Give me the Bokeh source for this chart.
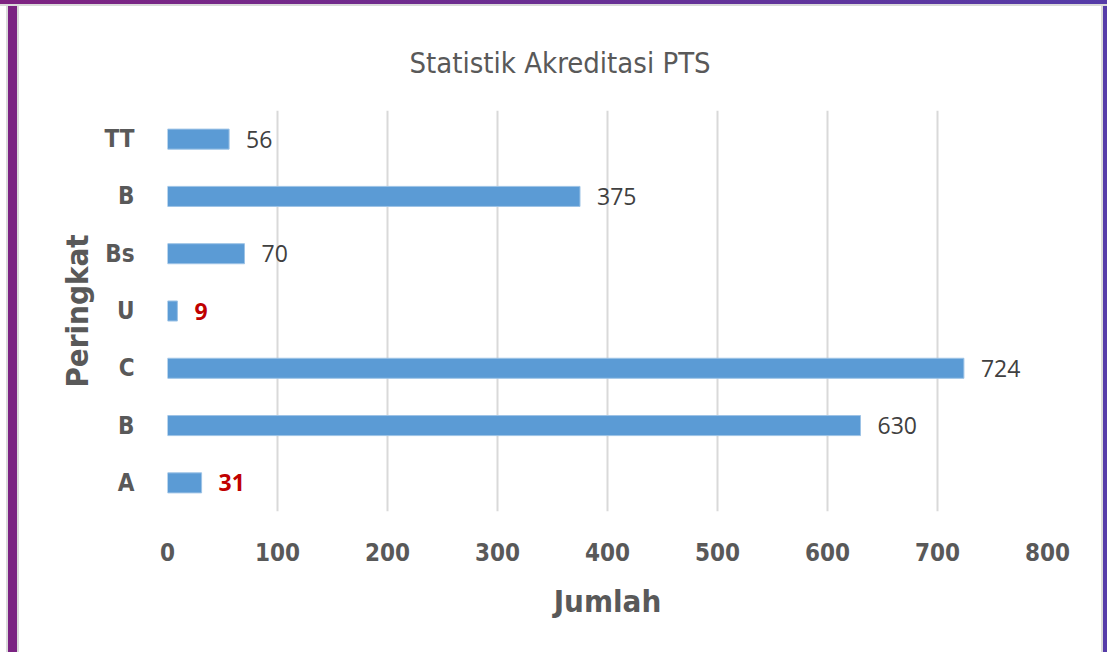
from bokeh.plotting import figure
from bokeh.models import ColumnDataSource, FixedTicker, LabelSet, Div, Range1d
from bokeh.layouts import row, column
from bokeh.core.properties import value
from bokeh.embed import file_html
from bokeh.resources import INLINE

# ---- data ----
categories = ["A", "B", "C", "U", "Bs", "B", "TT"]   # bottom to top
values = [31, 630, 724, 9, 70, 375, 56]
highlight_categories = ["A", "U"]
x_ticks = [0, 100, 200, 300, 400, 500, 600, 700, 800]
title_text = "Statistik Akreditasi PTS"
x_label = "Jumlah"
y_label = "Peringkat"

COND = "'DejaVu Sans Condensed', 'DejaVu Sans', sans-serif"
GRAY = "#595959"

pos = list(range(len(categories)))
label_color = ["#C00000" if c in highlight_categories else "#404040" for c in categories]
label_weight = ["bold" if c in highlight_categories else "normal" for c in categories]
source = ColumnDataSource(dict(y=pos, v=values, txt=[str(v) for v in values],
                               color=label_color, weight=label_weight))

p = figure(frame_width=880, frame_height=401,
           x_range=Range1d(0, 800), y_range=Range1d(-0.5, len(categories) - 0.5),
           output_backend="svg", toolbar_location=None,
           min_border_left=148, min_border_right=54,
           min_border_top=104, min_border_bottom=141,
           background_fill_color="white", border_fill_color="white")
p.outline_line_color = None

p.hbar(y="y", right="v", left=0, height=0.35, source=source,
       fill_color="#5B9BD5", line_color="#9DC3E6", line_width=1)

labels = LabelSet(x="v", y="y", text="txt", source=source, x_offset=17,
                  text_baseline="middle", text_align="left",
                  text_font=value("Open Sans"), text_font_size="23px",
                  text_color="color", text_font_style="weight")
p.add_layout(labels)

# title
p.title.text = title_text
p.title.align = "left"
p.title.offset = 242
p.title.standoff = 62
p.title.text_font = COND
p.title.text_font_size = "29px"
p.title.text_font_style = "normal"
p.title.text_color = GRAY

# x axis
p.xaxis.ticker = FixedTicker(ticks=x_ticks)
p.xaxis.axis_line_color = None
p.xaxis.major_tick_line_color = None
p.xaxis.minor_tick_line_color = None
p.xaxis.major_label_standoff = 25
p.xaxis.major_label_text_font = COND
p.xaxis.major_label_text_font_size = "24px"
p.xaxis.major_label_text_font_style = "bold"
p.xaxis.major_label_text_color = GRAY
p.xaxis.axis_label = x_label
p.xaxis.axis_label_standoff = 19
p.xaxis.axis_label_text_font = COND
p.xaxis.axis_label_text_font_size = "31px"
p.xaxis.axis_label_text_font_style = "bold"
p.xaxis.axis_label_text_color = GRAY

# y axis
p.yaxis.ticker = FixedTicker(ticks=pos)
p.yaxis.major_label_overrides = {i: c for i, c in zip(pos, categories)}
p.yaxis.axis_line_color = None
p.yaxis.major_tick_line_color = None
p.yaxis.minor_tick_line_color = None
p.yaxis.major_label_standoff = 27
p.yaxis.major_label_text_font = COND
p.yaxis.major_label_text_font_size = "24px"
p.yaxis.major_label_text_font_style = "bold"
p.yaxis.major_label_text_color = GRAY
p.yaxis.axis_label = y_label
p.yaxis.axis_label_standoff = 6
p.yaxis.axis_label_text_font = COND
p.yaxis.axis_label_text_font_size = "31px"
p.yaxis.axis_label_text_font_style = "bold"
p.yaxis.axis_label_text_color = GRAY

p.xgrid.grid_line_color = "#D9D9D9"
p.xgrid.grid_line_width = 2
p.ygrid.grid_line_color = None


def strip(w, h, bg):
    return Div(text="", width=w, height=h,
               styles={"background": bg, "margin": "0", "padding": "0"})


H = 646
top = column(strip(1107, 4, "linear-gradient(to right, #7E2381, #6A2F93, #553CA8)"),
             strip(1107, 2, "#DADADA"), spacing=0)
body = row(strip(6, H, "white"), strip(2, H, "#DADADA"), strip(9, H, "#7B2382"),
           strip(2, H, "#DADADA"), p, strip(2, H, "#DADADA"), strip(4, H, "#553CA8"),
           spacing=0)
layout = column(top, body, spacing=0)

open("out.html", "w").write(file_html(layout, INLINE))
